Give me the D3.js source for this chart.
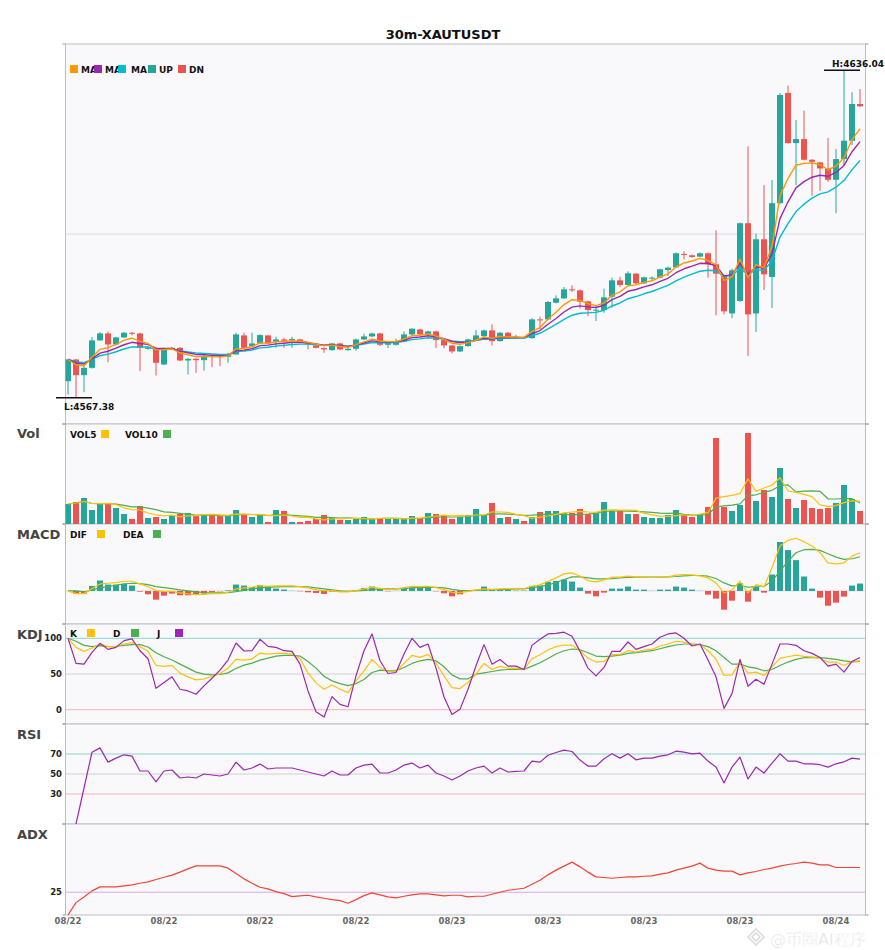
<!DOCTYPE html>
<html>
<head>
<meta charset="utf-8">
<script src="https://cdn.jsdelivr.net/npm/d3@7"></script>
<style>
  body { margin: 0; background: #fff; }
  text { font-family: "DejaVu Sans", sans-serif; }
</style>
</head>
<body>
<svg id="chart" width="885" height="950"></svg>
<script>
// 30m candles, 100 bars
const opens = [
  4570.86, 4575.41, 4572.12, 4573.66, 4579.40, 4580.87, 4578.56, 4580.03, 4581.01, 4580.87,
  4577.65, 4577.65, 4574.36, 4577.51, 4577.86, 4575.20, 4575.55, 4575.27, 4576.11, 4576.11,
  4575.97, 4576.46, 4580.45, 4578.21, 4578.77, 4580.45, 4579.12, 4579.61, 4579.40, 4579.61,
  4578.91, 4578.35, 4577.79, 4577.37, 4578.77, 4577.37, 4577.65, 4579.61, 4580.24, 4580.87,
  4578.49, 4578.49, 4579.19, 4580.66, 4581.71, 4580.59, 4581.29, 4579.47, 4578.35, 4577.09,
  4578.21, 4579.47, 4580.31, 4581.50, 4579.26, 4581.01, 4579.89, 4580.10, 4579.89, 4583.81,
  4583.81, 4587.31, 4588.22, 4590.11, 4589.90, 4587.59, 4585.70, 4585.77, 4588.57, 4592.00,
  4591.02, 4593.40, 4591.37, 4592.35, 4592.56, 4594.17, 4594.73, 4597.53, 4597.25, 4596.97,
  4597.67, 4595.36, 4593.05, 4585.07, 4587.66, 4603.97, 4585.07, 4600.61, 4592.70, 4608.17,
  4631.27, 4620.77, 4621.61, 4617.27, 4616.71, 4615.45, 4613.07, 4617.41, 4621.26, 4628.96
]
const highs = [
  4575.55, 4575.55, 4574.01, 4580.10, 4581.15, 4581.29, 4580.17, 4581.15, 4581.15, 4581.01,
  4578.21, 4577.86, 4577.86, 4578.00, 4578.00, 4575.69, 4575.69, 4576.46, 4576.46, 4576.25,
  4576.81, 4581.01, 4581.01, 4581.01, 4580.66, 4580.59, 4580.17, 4579.96, 4580.17, 4579.75,
  4579.05, 4578.49, 4577.93, 4578.91, 4578.91, 4577.79, 4579.75, 4580.80, 4581.01, 4581.01,
  4579.05, 4579.75, 4581.29, 4581.99, 4581.85, 4581.43, 4581.43, 4579.61, 4578.49, 4578.35,
  4579.75, 4581.57, 4581.64, 4582.76, 4581.15, 4581.15, 4580.59, 4580.31, 4584.02, 4584.37,
  4587.66, 4588.85, 4590.60, 4590.95, 4590.04, 4587.73, 4586.61, 4590.25, 4592.56, 4592.77,
  4593.89, 4593.54, 4592.77, 4592.84, 4594.45, 4594.87, 4597.81, 4598.09, 4597.39, 4597.81,
  4597.81, 4602.50, 4593.19, 4594.45, 4604.11, 4620.07, 4601.80, 4611.95, 4613.00, 4631.27,
  4632.81, 4625.60, 4627.56, 4617.41, 4616.85, 4621.82, 4619.51, 4636.04, 4631.41, 4632.11
]
const lows = [
  4568.06, 4567.38, 4568.55, 4573.50, 4579.33, 4574.85, 4578.35, 4579.89, 4580.45, 4572.96,
  4577.51, 4572.05, 4574.22, 4577.37, 4575.06, 4572.26, 4572.61, 4573.10, 4573.80, 4574.01,
  4574.71, 4576.46, 4577.72, 4578.07, 4578.63, 4578.63, 4577.86, 4577.86, 4577.86, 4578.91,
  4577.51, 4577.72, 4576.81, 4577.23, 4577.37, 4577.23, 4577.23, 4579.47, 4580.10, 4578.21,
  4577.79, 4578.35, 4579.05, 4580.52, 4580.52, 4580.45, 4577.79, 4577.79, 4576.67, 4576.95,
  4578.07, 4579.33, 4580.17, 4578.35, 4579.12, 4579.75, 4579.75, 4579.75, 4579.75, 4581.71,
  4583.67, 4587.17, 4588.08, 4589.55, 4586.12, 4584.51, 4583.46, 4585.21, 4586.26, 4590.60,
  4590.88, 4591.16, 4591.23, 4591.93, 4592.42, 4592.91, 4594.59, 4596.41, 4596.69, 4596.83,
  4592.56, 4584.65, 4584.86, 4584.09, 4587.52, 4576.11, 4581.15, 4589.97, 4586.19, 4608.03,
  4620.63, 4611.95, 4617.13, 4609.71, 4610.76, 4612.65, 4606.07, 4616.15, 4620.35, 4628.33
]
const closes = [
  4575.41, 4572.12, 4573.66, 4579.40, 4580.87, 4578.56, 4580.03, 4581.01, 4580.80, 4577.86,
  4577.93, 4574.71, 4577.65, 4577.86, 4575.20, 4575.55, 4575.27, 4576.11, 4575.90, 4575.90,
  4576.46, 4580.66, 4577.86, 4578.77, 4580.52, 4578.77, 4579.61, 4579.33, 4579.68, 4579.05,
  4578.56, 4577.86, 4577.51, 4578.77, 4577.51, 4577.65, 4579.61, 4580.24, 4580.87, 4578.49,
  4578.91, 4579.19, 4580.66, 4581.85, 4580.66, 4581.29, 4579.47, 4578.35, 4577.09, 4578.21,
  4579.61, 4580.45, 4581.50, 4579.26, 4581.01, 4579.89, 4580.17, 4579.89, 4583.81, 4583.67,
  4587.45, 4588.22, 4590.11, 4589.97, 4587.52, 4585.77, 4585.84, 4588.43, 4592.00, 4591.02,
  4593.47, 4591.37, 4592.63, 4592.56, 4594.31, 4594.66, 4597.67, 4597.32, 4596.90, 4597.67,
  4595.36, 4593.40, 4585.49, 4594.10, 4603.97, 4584.86, 4600.61, 4593.26, 4608.17, 4630.85,
  4620.77, 4621.61, 4617.27, 4616.85, 4615.45, 4613.07, 4617.41, 4621.26, 4628.96, 4628.47
]
const volumes = [
  200, 220, 260, 140, 200, 210, 160, 100, 50, 180,
  60, 70, 50, 80, 100, 110, 80, 100, 90, 80,
  80, 140, 100, 70, 90, 20, 140, 130, 20, 20,
  30, 50, 90, 60, 40, 40, 60, 70, 50, 60,
  50, 50, 50, 80, 60, 110, 100, 90, 50, 70,
  90, 150, 90, 210, 60, 70, 50, 30, 70, 120,
  130, 130, 110, 110, 150, 100, 110, 220, 130, 130,
  100, 100, 70, 60, 60, 90, 140, 90, 70, 100,
  170, 860, 170, 130, 190, 910, 230, 340, 270, 560,
  250, 160, 240, 160, 150, 160, 210, 390, 250, 130
]
const difs = [
  0, -0.53, -0.53, 0.47, 1.4, 1.53, 1.67, 1.93, 1.93, 1.4,
  0.87, 0.07, -0.07, -0.07, -0.4, -0.6, -0.73, -0.67, -0.53, -0.53,
  -0.27, 0.4, 0.6, 0.73, 1.07, 0.93, 1.0, 1.0, 1.0, 0.87,
  0.6, 0.27, 0.07, 0.07, -0.2, -0.2, 0.07, 0.4, 0.73, 0.53,
  0.33, 0.4, 0.67, 0.93, 0.87, 0.93, 0.67, 0.27, -0.27, -0.33,
  -0.07, 0.2, 0.4, 0.33, 0.4, 0.47, 0.4, 0.47, 0.93, 1.2,
  1.93, 2.6, 3.4, 3.6, 2.93, 2.07, 1.8, 2.2, 2.73, 2.73,
  2.93, 2.8, 2.8, 2.67, 2.8, 2.8, 3.13, 3.27, 3.2, 3.0,
  2.6, 1.6, -0.4, 0.2, 1.93, -0.4, 1.27, 0.8, 4.6, 8.93,
  10.07, 10.47, 9.8, 8.93, 7.6, 5.6, 5.4, 5.6, 6.93, 7.6
]
const deas = [
  0, 0, -0.2, 0.2, 0.6, 0.87, 1.13, 1.4, 1.53, 1.47,
  1.27, 0.87, 0.67, 0.47, 0.2, 0, -0.2, -0.33, -0.4, -0.4,
  -0.33, -0.13, 0.13, 0.4, 0.6, 0.73, 0.8, 0.87, 0.87, 0.87,
  0.8, 0.6, 0.4, 0.2, 0, -0.07, 0, 0.13, 0.27, 0.4,
  0.4, 0.4, 0.47, 0.6, 0.67, 0.73, 0.73, 0.6, 0.33, 0.13,
  0.07, 0.13, 0.2, 0.27, 0.27, 0.33, 0.4, 0.4, 0.67, 0.87,
  1.2, 1.67, 2.27, 2.8, 2.8, 2.6, 2.4, 2.4, 2.47, 2.6,
  2.67, 2.73, 2.73, 2.73, 2.73, 2.8, 2.87, 3.0, 3.07, 3.07,
  2.93, 2.47, 1.6, 1.0, 1.13, 0.73, 0.93, 0.93, 1.93, 3.93,
  5.93, 7.6, 8.2, 8.27, 8.07, 7.4, 6.73, 6.27, 6.4, 6.8
]
const macdHist = [
  0, -0.53, -0.53, 1.0, 2.07, 1.27, 1.27, 1.4, 1.07, -0.13,
  -0.67, -1.73, -0.93, -0.53, -0.87, -0.87, -0.73, -0.53, -0.2, -0.07,
  0.13, 1.27, 1.07, 0.8, 1.2, 0.93, 0.47, 0.27, 0.03, -0.07,
  -0.27, -0.4, -0.6, -0.13, -0.2, -0.07, 0.2, 0.6, 0.87, 0.4,
  -0.07, 0.03, 0.4, 0.67, 0.67, 0.6, -0.07, -0.47, -1.07, -0.67,
  -0.07, 0.2, 0.87, 0.27, 0.2, 0.27, 0.07, 0.07, 1.0, 1.07,
  1.8, 2.0, 2.27, 1.87, 0.67, -0.53, -1.07, -0.33, 0.47, 0.47,
  0.87, 0.27, 0.27, 0.03, 0.27, 0.27, 0.87, 0.67, 0.27, 0.03,
  -0.73, -1.53, -3.73, -1.93, 1.53, -2.13, 0.8, -0.33, 3.27, 9.73,
  8.13, 6.13, 2.87, 0.47, -1.33, -2.93, -2.33, -1.13, 1.07, 1.47
]
const kVals = [
  100, 87.3, 81.7, 86.4, 92, 88.3, 88.3, 92, 93.9, 88.3,
  81.7, 62, 60.6, 62, 51.2, 46, 41.8, 43.2, 46.9, 50.7,
  58.2, 70.4, 69.5, 70.9, 79.3, 77.9, 78.9, 78.9, 77.9, 71.4,
  51.6, 37.6, 28.6, 34.7, 28.6, 23.9, 40.4, 54.5, 70.4, 59.2,
  53.5, 53.5, 64.8, 76.1, 73.2, 77.5, 64.8, 47.4, 31, 29.6,
  38.5, 49.8, 64.8, 56.3, 60.6, 58.2, 58.2, 56.3, 71.4, 77,
  83.6, 88.3, 90.6, 90.1, 82.6, 72.3, 66.7, 67.6, 77, 77,
  82.6, 80.8, 83.6, 84.5, 89.2, 92, 95.8, 94.8, 91.1, 91.1,
  82.6, 70.9, 47.9, 48.8, 66.7, 51.2, 52.6, 47.9, 60.1, 71.8,
  74.2, 76.5, 74.6, 73.7, 71.8, 66.7, 66.7, 62, 67.6, 68.5
]
const dVals = [
  100, 95.8, 90.1, 88.3, 89.7, 88.3, 88.7, 90.1, 91.1, 91.1,
  87.8, 79.8, 74.2, 69.5, 63.8, 58.2, 52.6, 49.8, 48.8, 49.3,
  51.6, 57.7, 62.4, 65.3, 69.5, 72.3, 75.1, 76.1, 76.1, 75.1,
  67.6, 58.2, 46.9, 40.4, 36.6, 33.8, 36.6, 42.3, 52.1, 55.4,
  54.5, 54.5, 59.2, 64.8, 68.5, 70.4, 68.5, 60.1, 48.8, 43.2,
  43.2, 49.8, 51.6, 53.5, 55.4, 56.3, 56.8, 56.3, 61, 65.7,
  71.8, 77.9, 82.6, 85, 84, 79.8, 75.1, 74.2, 75.1, 76.5,
  78.9, 79.8, 81.2, 82.6, 85.4, 88.3, 90.6, 92, 92, 91.1,
  88.3, 82.6, 73.2, 63.8, 63.8, 60.1, 58.2, 54.5, 56.3, 62,
  66.7, 70.4, 72.8, 73.2, 72.8, 71.8, 70.4, 68.5, 67.1, 67.6
]
const jVals = [
  100, 64.8, 63.8, 80.3, 93, 84.5, 87.3, 96.7, 99.1, 82.6,
  71.4, 30, 38, 46, 28.6, 26.3, 21.6, 33.3, 44.1, 55.4,
  69.5, 93.4, 82.2, 82.6, 98.6, 88.7, 87.3, 82.6, 81.7, 63.8,
  26.3, -2.8, -10.3, 18.3, 7.5, 4.2, 47.4, 82.6, 106.1, 68.5,
  50.7, 52.1, 77.9, 100, 87.3, 92, 58.2, 17.8, -6.6, 0.5,
  28.6, 61.5, 91.1, 63.8, 70.4, 61, 61, 56.3, 90.1, 98.6,
  106.1, 107, 108.5, 102.8, 81.7, 58.2, 47.4, 59.2, 81.7, 81.7,
  94.8, 84.5, 88.3, 92, 101.4, 106.1, 107.5, 100, 89.2, 92,
  69.5, 46, 1.9, 22.5, 70.4, 32.9, 42.7, 35.7, 63.8, 92,
  92, 90.1, 82.6, 78.9, 73.2, 61, 63.8, 52.6, 67.6, 73.2
]
const rsiVals = [
  null, 0, 36, 71.8, 76.1, 61.9, 65.9, 69.2, 67.9, 53,
  53, 42.1, 53, 54, 46, 47, 46, 50, 49, 48,
  50, 61.9, 54, 56, 59.9, 55, 56, 56, 56, 54,
  52, 50, 48, 53, 49, 49, 56, 58.9, 59.9, 51,
  51, 54, 58.9, 60.9, 56, 58.9, 51, 48, 44, 48,
  53, 56, 57.9, 51, 56, 52, 52.6, 53, 62.9, 61.9,
  68.8, 71.5, 73.8, 72.5, 63.9, 57.9, 57.9, 65.2, 70.2, 65.9,
  70.2, 64.2, 65.9, 65.9, 67.9, 69.2, 72.8, 71.8, 70.2, 70.8,
  62.9, 56.9, 41.1, 56.9, 66.9, 45, 56.9, 51, 60.9, 70.2,
  62.9, 62.9, 60.2, 60.2, 59.3, 56.9, 60.2, 62.2, 65.9, 64.9
]
const adxVals = [
  0, 13.6, 19.8, 26.5, 30.9, 30.9, 30.9, 32, 33.1, 34.9,
  36.4, 39, 41.5, 43.8, 47.1, 50.7, 54, 54, 54, 54,
  51.5, 45.6, 39.7, 34.9, 30.5, 28.7, 25.7, 23.5, 20.2, 21,
  21.7, 19.9, 18.4, 16.9, 15.8, 12.9, 16.9, 21.3, 24.3, 22.1,
  19.9, 18.8, 20.6, 22.1, 23.2, 23.2, 22.1, 21, 21.7, 21.7,
  19.9, 20.6, 20.6, 22.8, 25, 27.2, 28.3, 29.4, 33.8, 38.2,
  44.1, 49.3, 53.7, 58.1, 52.9, 47.1, 41.9, 41.2, 40.4, 41.2,
  41.9, 41.9, 42.6, 43, 44.9, 46.3, 49.3, 51.5, 53.7, 57,
  51.5, 49.3, 48.2, 48.2, 44.1, 46.3, 47.8, 50, 51.5, 53.7,
  55.5, 56.6, 58.1, 57, 55.1, 55.1, 52.2, 52.2, 52.2, 52.2
]
const tickIdx = [0, 12, 24, 36, 48, 60, 72, 84, 96]
const tickLabels = ['08/22', '08/22', '08/22', '08/22', '08/23', '08/23', '08/23', '08/23', '08/24']
const maPeriods = [5, 8, 13]

const UP = '#26a69a'
const DN = '#ef5350'
const C_MA = ['#ff9800', '#9c27b0', '#00bcd4']
const C_Y = '#ffc107', C_G = '#4caf50', C_P = '#9c27b0'

const L = 65.5, R = 865.5
const n = closes.length
const svg = d3.select('#chart')

// panel bands, top/bottom
const P = {
	main: [44, 424],
	vol: [424, 524],
	macd: [524, 624],
	kdj: [624, 724],
	rsi: [724, 824],
	adx: [824, 915]
}

const x = d3.scaleLinear().domain([0, n - 1]).range([L + 2.5, R - 5.5])

function ema(arr, p) {
	const k = 2 / (p + 1)
	let e
	return arr.map((v, i) => (e = i === 0 ? v : e + k * (v - e)))
}
function sma(arr, p) {
	return arr.map((v, i) => d3.mean(arr.slice(Math.max(0, i - p + 1), i + 1)))
}

// title
svg.append('text')
	.attr('x', 443).attr('y', 39)
	.attr('text-anchor', 'middle')
	.attr('font-size', 13).attr('font-weight', 'bold')
	.attr('fill', '#111')
	.text('30m-XAUTUSDT')

// panel backgrounds + clip paths
const defs = svg.append('defs')
Object.entries(P).forEach(([k, [t, b]]) => {
	svg.append('rect')
		.attr('x', L).attr('y', t)
		.attr('width', R - L).attr('height', b - t)
		.attr('fill', '#f9f9fb')
		.attr('stroke', '#bdbdc6')
		.attr('stroke-width', 1)
	defs.append('clipPath').attr('id', 'clip-' + k)
		.append('rect').attr('x', L).attr('y', t).attr('width', R - L).attr('height', b - t)
	// small edge ticks
	;[t, b].forEach(yy => {
		svg.append('line').attr('x1', L - 3).attr('x2', L).attr('y1', yy).attr('y2', yy)
			.attr('stroke', '#999')
		svg.append('line').attr('x1', R).attr('x2', R + 3).attr('y1', yy).attr('y2', yy)
			.attr('stroke', '#999')
	})
})

function layer(k) {
	return svg.append('g').attr('clip-path', `url(#clip-${k})`)
}
function hline(g, yy, color) {
	g.append('line').attr('x1', L).attr('x2', R).attr('y1', yy).attr('y2', yy)
		.attr('stroke', color).attr('stroke-width', 1)
}
function drawLine(g, vals, y, color, w) {
	const line = d3.line()
		.defined(d => d != null)
		.x((d, i) => x(i))
		.y(d => y(d))
	g.append('path')
		.datum(vals)
		.attr('d', line)
		.attr('fill', 'none')
		.attr('stroke', color)
		.attr('stroke-width', w || 1.2)
		.attr('stroke-linejoin', 'round')
}
function legend(items, baseline) {
	items.forEach(it => {
		if (it.sq) {
			svg.append('rect').attr('x', it.x).attr('y', baseline - 8)
				.attr('width', 8).attr('height', 8).attr('fill', it.sq)
		} else {
			svg.append('text').attr('x', it.x).attr('y', baseline)
				.attr('font-size', 9).attr('font-weight', 'bold').attr('fill', '#111')
				.text(it.t)
		}
	})
}
function panelTitle(label, baseline) {
	svg.append('text').attr('x', 17).attr('y', baseline)
		.attr('font-size', 13).attr('font-weight', 'bold').attr('fill', '#444')
		.text(label)
}
function leftTick(label, yy) {
	svg.append('text').attr('x', 62).attr('y', yy + 3)
		.attr('text-anchor', 'end')
		.attr('font-size', 8.5).attr('font-weight', 'bold').attr('fill', '#222')
		.text(label)
}

// ---------- main candles ----------
const pHi = d3.max(highs), pLo = d3.min(lows), pr = pHi - pLo
const yMain = d3.scaleLinear()
	.domain([pLo - pr * 0.08, pHi + pr * 0.08])
	.range([P.main[1], P.main[0]])

const gMain = layer('main')
hline(gMain, (P.main[0] + P.main[1]) / 2, '#dcdce2')

const candles = d3.range(n).map(i => ({
	i, o: opens[i], h: highs[i], l: lows[i], c: closes[i], up: closes[i] >= opens[i]
}))
gMain.selectAll('.wick').data(candles).enter().append('line')
	.attr('x1', d => x(d.i)).attr('x2', d => x(d.i))
	.attr('y1', d => yMain(d.h)).attr('y2', d => yMain(d.l))
	.attr('stroke', d => (d.up ? UP : DN)).attr('stroke-width', 1)
gMain.selectAll('.body').data(candles).enter().append('rect')
	.attr('x', d => x(d.i) - 3).attr('width', 6)
	.attr('y', d => yMain(Math.max(d.o, d.c)))
	.attr('height', d => Math.max(1, Math.abs(yMain(d.o) - yMain(d.c))))
	.attr('fill', d => (d.up ? UP : DN))

// slowest first so the fast line sits on top
;[2, 1, 0].forEach(k => drawLine(gMain, ema(closes, maPeriods[k]), yMain, C_MA[k], 1.4))

// high / low markers
const iHi = highs.indexOf(pHi), iLo = lows.indexOf(pLo)
;[[iHi, pHi, 'H:', -3.5], [iLo, pLo, 'L:', 12.5]].forEach(([i, v, pre, dy]) => {
	const yy = yMain(v)
	svg.append('line').attr('x1', x(i) - 20).attr('x2', x(i) + 16)
		.attr('y1', yy).attr('y2', yy).attr('stroke', '#111').attr('stroke-width', 1.5)
	svg.append('text').attr('x', x(i) - 12).attr('y', yy + dy)
		.attr('font-size', 9).attr('font-weight', 'bold').attr('fill', '#111')
		.text(pre + v.toFixed(2))
})

legend([
	{ x: 70, sq: C_MA[0] }, { x: 81, t: 'MA' },
	{ x: 94, sq: C_MA[1] }, { x: 105, t: 'MA' },
	{ x: 118, sq: C_MA[2] }, { x: 131, t: 'MA' },
	{ x: 148, sq: UP }, { x: 159, t: 'UP' },
	{ x: 178, sq: DN }, { x: 189, t: 'DN' }
], 73)

// ---------- volume ----------
const yVol = d3.scaleLinear().domain([0, d3.max(volumes) / 0.91]).range([P.vol[1], P.vol[0]])
const gVol = layer('vol')
gVol.selectAll('rect').data(candles).enter().append('rect')
	.attr('x', d => x(d.i) - 3).attr('width', 6)
	.attr('y', d => yVol(volumes[d.i]))
	.attr('height', d => yVol(0) - yVol(volumes[d.i]))
	.attr('fill', d => (d.up ? UP : DN))
drawLine(gVol, sma(volumes, 10), yVol, C_G, 1.2)
drawLine(gVol, sma(volumes, 5), yVol, C_Y, 1.2)
panelTitle('Vol', 438)
legend([
	{ x: 70, t: 'VOL5' }, { x: 101, sq: C_Y },
	{ x: 125, t: 'VOL10' }, { x: 163, sq: C_G }
], 438)

// ---------- MACD ----------
const mExt = d3.extent([...difs, ...deas, ...macdHist])
const mr = mExt[1] - mExt[0]
const yMacd = d3.scaleLinear()
	.domain([mExt[0] - mr * 0.2, mExt[1] + mr * 0.2])
	.range([P.macd[1], P.macd[0]])
const gMacd = layer('macd')
hline(gMacd, yMacd(0), '#dedee4')
gMacd.selectAll('rect').data(macdHist).enter().append('rect')
	.attr('x', (d, i) => x(i) - 3).attr('width', 6)
	.attr('y', d => yMacd(Math.max(0, d)))
	.attr('height', d => Math.abs(yMacd(d) - yMacd(0)))
	.attr('fill', d => (d >= 0 ? UP : DN))
drawLine(gMacd, deas, yMacd, C_G)
drawLine(gMacd, difs, yMacd, C_Y)
panelTitle('MACD', 539)
legend([
	{ x: 70, t: 'DIF' }, { x: 97, sq: C_Y },
	{ x: 123, t: 'DEA' }, { x: 153, sq: C_G }
], 538)

// ---------- KDJ ----------
const yKdj = d3.scaleLinear().domain([-20, 120]).range([P.kdj[1], P.kdj[0]])
const gKdj = layer('kdj')
hline(gKdj, yKdj(100), '#8fd3cb')
hline(gKdj, yKdj(50), '#d0d0d4')
hline(gKdj, yKdj(0), '#f7b3b3')
drawLine(gKdj, dVals, yKdj, C_G)
drawLine(gKdj, kVals, yKdj, C_Y)
drawLine(gKdj, jVals, yKdj, C_P)
panelTitle('KDJ', 639)
;[100, 50, 0].forEach(v => leftTick(v, yKdj(v)))
legend([
	{ x: 70, t: 'K' }, { x: 87, sq: C_Y },
	{ x: 113, t: 'D' }, { x: 131, sq: C_G },
	{ x: 157, t: 'J' }, { x: 175, sq: C_P }
], 637)

// ---------- RSI ----------
const yRsi = d3.scaleLinear().domain([0, 100]).range([P.rsi[1], P.rsi[0]])
const gRsi = layer('rsi')
hline(gRsi, yRsi(70), '#8fd3cb')
hline(gRsi, yRsi(50), '#d0d0d4')
hline(gRsi, yRsi(30), '#f7b3b3')
drawLine(gRsi, rsiVals, yRsi, C_P)
panelTitle('RSI', 739)
;[70, 50, 30].forEach(v => leftTick(v, yRsi(v)))

// ---------- ADX ----------
const yAdx = d3.scaleLinear().domain([0, 100]).range([P.adx[1], P.adx[0]])
const gAdx = layer('adx')
hline(gAdx, yAdx(25), '#d9a9e3')
drawLine(gAdx, adxVals, yAdx, '#f44336')
panelTitle('ADX', 839)
leftTick(25, yAdx(25))

// x axis labels
svg.selectAll('.xl').data(tickIdx).enter().append('text')
	.attr('x', d => x(d)).attr('y', 924)
	.attr('text-anchor', 'middle')
	.attr('font-size', 8.5).attr('font-weight', 'bold').attr('fill', '#666')
	.text((d, i) => tickLabels[i])

// watermark, kept just under the axis labels
const wm = svg.append('g').attr('opacity', 0.75)
wm.append('path')
	.attr('d', 'M756,929 L764,937 L756,945 L748,937 Z M756,933 L760,937 L756,941 L752,937 Z')
	.attr('fill', 'none').attr('stroke', '#cfcfcf').attr('stroke-width', 1.6)
wm.append('text')
	.attr('x', 770).attr('y', 945)
	.attr('font-family', '"Noto Sans CJK SC", sans-serif')
	.attr('font-size', 16)
	.attr('fill', '#d4d4d4').attr('stroke', '#fff').attr('stroke-width', 0.5)
	.text('@币圈AI程序')
</script>
</body>
</html>
